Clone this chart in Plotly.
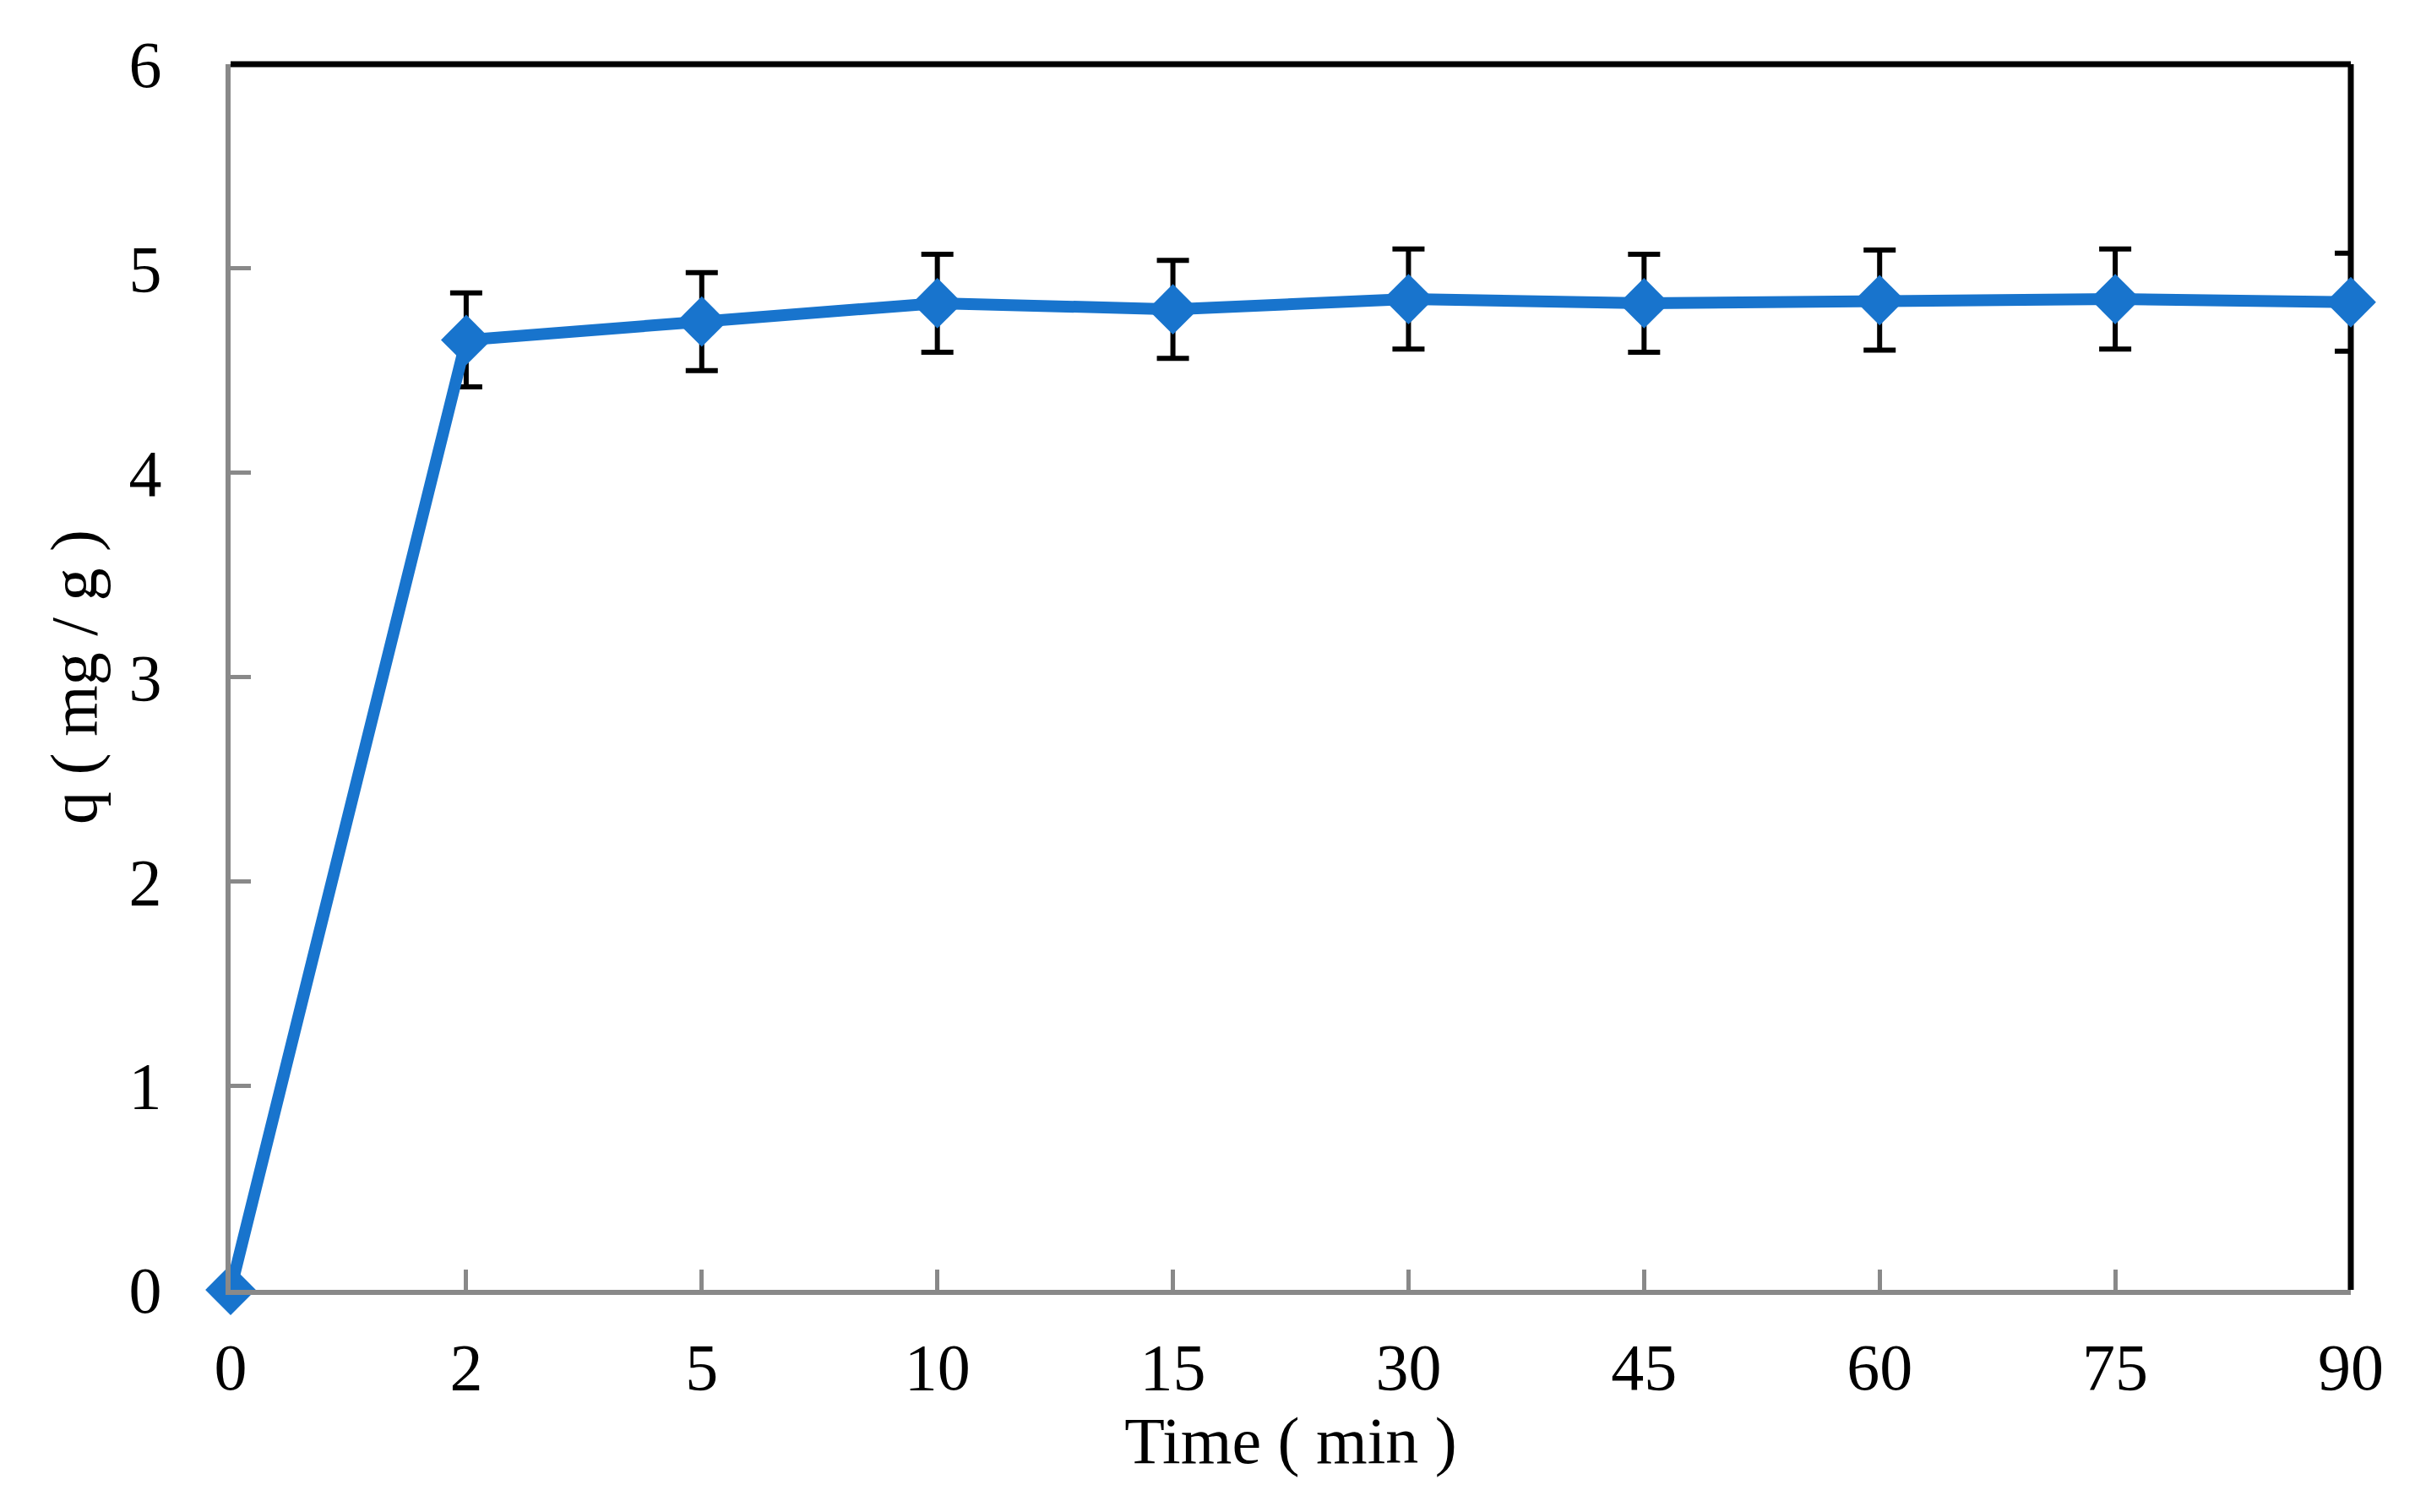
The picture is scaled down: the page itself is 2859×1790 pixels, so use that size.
import plotly.graph_objects as go

# Data
time_labels = ["0", "2", "5", "10", "15", "30", "45", "60", "75", "90"]
q_values = [0.0, 4.65, 4.74, 4.83, 4.80, 4.85, 4.83, 4.845, 4.85, 4.835]
q_errors = [0.0, 0.23, 0.24, 0.24, 0.24, 0.245, 0.24, 0.245, 0.245, 0.24]
y_ticks = [0, 1, 2, 3, 4, 5, 6]

W, H = 2859, 1790
FONT = "Liberation Serif, Times New Roman, serif"
GRAY = "#898989"
BLUE = "#1874cd"

fig = go.Figure()
fig.add_trace(go.Scatter(
    x=time_labels,
    y=q_values,
    mode="lines+markers",
    line=dict(color=BLUE, width=14),
    marker=dict(symbol="diamond", size=46, color=BLUE),
    error_y=dict(type="data", array=q_errors, visible=True,
                 color="black", thickness=6, width=19),
    cliponaxis=False,
    showlegend=False,
))

# top and right border (black)
fig.add_shape(type="line", xref="paper", yref="paper", x0=0, x1=1, y0=1, y1=1,
              line=dict(color="black", width=7), layer="below")
fig.add_shape(type="line", xref="paper", yref="paper", x0=1, x1=1, y0=0, y1=1,
              line=dict(color="black", width=7), layer="below")

fig.update_layout(
    width=W, height=H,
    margin=dict(l=265, r=84, t=68, b=271, autoexpand=False),
    paper_bgcolor="white", plot_bgcolor="white",
    font=dict(family=FONT, size=78, color="black"),
    xaxis=dict(
        type="category",
        categoryorder="array", categoryarray=time_labels,
        range=[0, len(time_labels) - 1],
        showline=True, linecolor=GRAY, linewidth=6,
        ticks="inside", ticklen=24, tickwidth=5, tickcolor=GRAY,
        showgrid=False, zeroline=False,
        tickfont=dict(family=FONT, size=78, color="black"),
        ticklabelstandoff=18,
        title=dict(text="Time ( min )", font=dict(family=FONT, size=78, color="black"),
                   standoff=8),
        automargin=False,
    ),
    yaxis=dict(
        range=[0, 6],
        tickvals=y_ticks,
        showline=True, linecolor=GRAY, linewidth=6,
        ticks="inside", ticklen=24, tickwidth=5, tickcolor=GRAY,
        showgrid=False, zeroline=False,
        tickfont=dict(family=FONT, size=78, color="black"),
        ticklabelstandoff=60,
        title=dict(text="q ( mg / g )", font=dict(family=FONT, size=78, color="black"),
                   standoff=14),
        automargin=False,
    ),
)

fig.write_html("out.html")
